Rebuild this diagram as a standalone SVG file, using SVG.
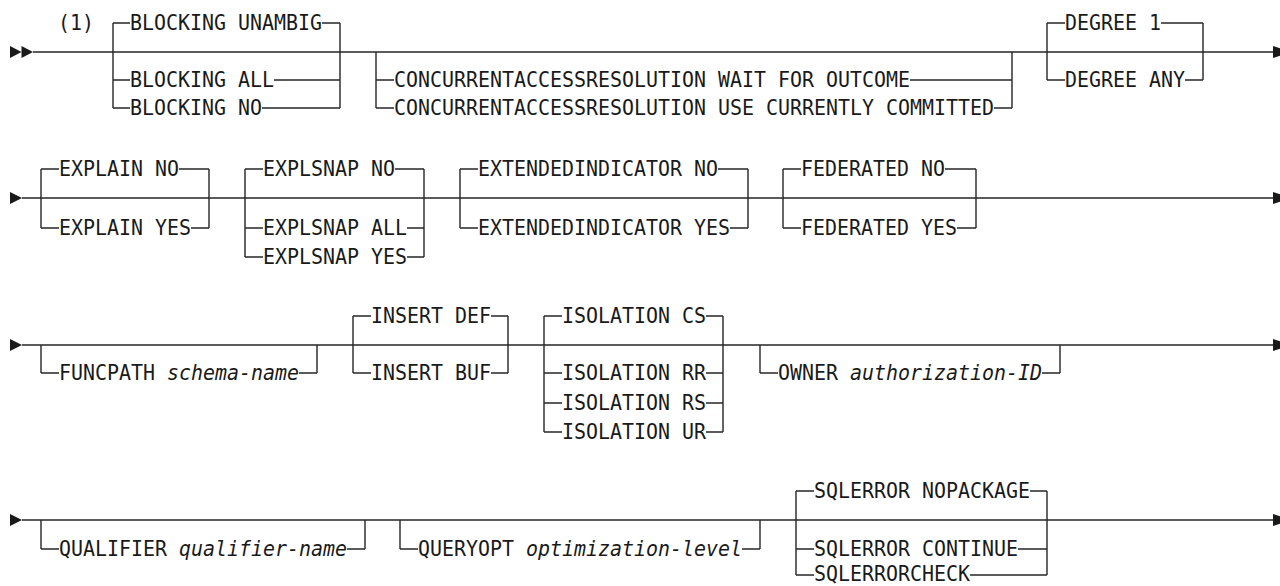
<svg xmlns="http://www.w3.org/2000/svg" width="1280" height="586" viewBox="0 0 1280 586">
<style>
.t{font-family:"DejaVu Sans Mono","Liberation Mono",monospace;font-size:22px;fill:#1a1a1a}
.i{font-style:italic}
.ln{stroke:#262626;stroke-width:1.4;fill:none}
.ar{fill:#1a1a1a}
</style>
<rect width="1280" height="586" fill="#ffffff"/>
<g id="connectors">
<path class="ln" d="M33,52 H1274 M22,198 H1274 M22,345 H1274 M22,520 H1274"/>
<path class="ln" d="M113,23 V108 M340,23 V108 M113,23 H130 M322,23 H340 M113,80 H130 M274,80 H340 M113,108 H130 M262,108 H340"/>
<path class="ln" d="M376,52 V108 M1012,52 V108 M376,80 H394 M910,80 H1012 M376,108 H394 M994,108 H1012"/>
<path class="ln" d="M1047,23 V80 M1203,23 V80 M1047,23 H1065 M1161,23 H1203 M1047,80 H1065 M1185,80 H1203"/>
<path class="ln" d="M41,169 V228 M209,169 V228 M41,169 H59 M179,169 H209 M41,228 H59 M191,228 H209"/>
<path class="ln" d="M245,169 V257 M424,169 V257 M245,169 H263 M395,169 H424 M245,228 H263 M407,228 H424 M245,257 H263 M407,257 H424"/>
<path class="ln" d="M460,169 V228 M748,169 V228 M460,169 H478 M718,169 H748 M460,228 H478 M730,228 H748"/>
<path class="ln" d="M783,169 V228 M976,169 V228 M783,169 H801 M945,169 H976 M783,228 H801 M957,228 H976"/>
<path class="ln" d="M41,345 V373 M317,345 V373 M41,373 H59 M299,373 H317"/>
<path class="ln" d="M353,316 V373 M508,316 V373 M353,316 H371 M491,316 H508 M353,373 H371 M491,373 H508"/>
<path class="ln" d="M544,316 V432 M723,316 V432 M544,316 H562 M706,316 H723 M544,373 H562 M706,373 H723 M544,403 H562 M706,403 H723 M544,432 H562 M706,432 H723"/>
<path class="ln" d="M760,345 V373 M1060,345 V373 M760,373 H778 M1042,373 H1060"/>
<path class="ln" d="M41,520 V549 M365,520 V549 M41,549 H59 M347,549 H365"/>
<path class="ln" d="M400,520 V549 M760,520 V549 M400,549 H418 M742,549 H760"/>
<path class="ln" d="M796,491 V575 M1047,491 V575 M796,491 H814 M1030,491 H1047 M796,549 H814 M1018,549 H1047 M796,575 H814 M970,575 H1047"/>
<polygon class="ar" points="10,46 21.5,52 10,58"/>
<polygon class="ar" points="21.5,46 33,52 21.5,58"/>
<polygon class="ar" points="10,192 22,198 10,204"/>
<polygon class="ar" points="10,339 22,345 10,351"/>
<polygon class="ar" points="10,514 22,520 10,526"/>
<polygon class="ar" points="1273,46 1291,52 1273,58"/>
<polygon class="ar" points="1273,192 1291,198 1273,204"/>
<polygon class="ar" points="1273,339 1291,345 1273,351"/>
<polygon class="ar" points="1273,514 1291,520 1273,526"/>
</g>
<g id="note1"><text class="t" x="58" y="30" textLength="36" lengthAdjust="spacingAndGlyphs">(1)</text></g>
<g id="blocking">
<text class="t" x="130" y="30" textLength="192" lengthAdjust="spacingAndGlyphs">BLOCKING UNAMBIG</text>
<text class="t" x="130" y="87" textLength="144" lengthAdjust="spacingAndGlyphs">BLOCKING ALL</text>
<text class="t" x="130" y="115" textLength="132" lengthAdjust="spacingAndGlyphs">BLOCKING NO</text>
</g>
<g id="concurrent">
<text class="t" x="394" y="87" textLength="516" lengthAdjust="spacingAndGlyphs">CONCURRENTACCESSRESOLUTION WAIT FOR OUTCOME</text>
<text class="t" x="394" y="115" textLength="600" lengthAdjust="spacingAndGlyphs">CONCURRENTACCESSRESOLUTION USE CURRENTLY COMMITTED</text>
</g>
<g id="degree">
<text class="t" x="1065" y="30" textLength="96" lengthAdjust="spacingAndGlyphs">DEGREE 1</text>
<text class="t" x="1065" y="87" textLength="120" lengthAdjust="spacingAndGlyphs">DEGREE ANY</text>
</g>
<g id="explain">
<text class="t" x="59" y="176" textLength="120" lengthAdjust="spacingAndGlyphs">EXPLAIN NO</text>
<text class="t" x="59" y="235" textLength="132" lengthAdjust="spacingAndGlyphs">EXPLAIN YES</text>
</g>
<g id="explsnap">
<text class="t" x="263" y="176" textLength="132" lengthAdjust="spacingAndGlyphs">EXPLSNAP NO</text>
<text class="t" x="263" y="235" textLength="144" lengthAdjust="spacingAndGlyphs">EXPLSNAP ALL</text>
<text class="t" x="263" y="264" textLength="144" lengthAdjust="spacingAndGlyphs">EXPLSNAP YES</text>
</g>
<g id="extendedindicator">
<text class="t" x="478" y="176" textLength="240" lengthAdjust="spacingAndGlyphs">EXTENDEDINDICATOR NO</text>
<text class="t" x="478" y="235" textLength="252" lengthAdjust="spacingAndGlyphs">EXTENDEDINDICATOR YES</text>
</g>
<g id="federated">
<text class="t" x="801" y="176" textLength="144" lengthAdjust="spacingAndGlyphs">FEDERATED NO</text>
<text class="t" x="801" y="235" textLength="156" lengthAdjust="spacingAndGlyphs">FEDERATED YES</text>
</g>
<g id="funcpath">
<text class="t" x="59" y="380" textLength="96" lengthAdjust="spacingAndGlyphs">FUNCPATH</text>
<text class="t i" x="167" y="380" textLength="132" lengthAdjust="spacingAndGlyphs">schema-name</text>
</g>
<g id="insert">
<text class="t" x="371" y="323" textLength="120" lengthAdjust="spacingAndGlyphs">INSERT DEF</text>
<text class="t" x="371" y="380" textLength="120" lengthAdjust="spacingAndGlyphs">INSERT BUF</text>
</g>
<g id="isolation">
<text class="t" x="562" y="323" textLength="144" lengthAdjust="spacingAndGlyphs">ISOLATION CS</text>
<text class="t" x="562" y="380" textLength="144" lengthAdjust="spacingAndGlyphs">ISOLATION RR</text>
<text class="t" x="562" y="410" textLength="144" lengthAdjust="spacingAndGlyphs">ISOLATION RS</text>
<text class="t" x="562" y="439" textLength="144" lengthAdjust="spacingAndGlyphs">ISOLATION UR</text>
</g>
<g id="owner">
<text class="t" x="778" y="380" textLength="60" lengthAdjust="spacingAndGlyphs">OWNER</text>
<text class="t i" x="850" y="380" textLength="192" lengthAdjust="spacingAndGlyphs">authorization-ID</text>
</g>
<g id="qualifier">
<text class="t" x="59" y="556" textLength="108" lengthAdjust="spacingAndGlyphs">QUALIFIER</text>
<text class="t i" x="179" y="556" textLength="168" lengthAdjust="spacingAndGlyphs">qualifier-name</text>
</g>
<g id="queryopt">
<text class="t" x="418" y="556" textLength="96" lengthAdjust="spacingAndGlyphs">QUERYOPT</text>
<text class="t i" x="526" y="556" textLength="216" lengthAdjust="spacingAndGlyphs">optimization-level</text>
</g>
<g id="sqlerror">
<text class="t" x="814" y="498" textLength="216" lengthAdjust="spacingAndGlyphs">SQLERROR NOPACKAGE</text>
<text class="t" x="814" y="556" textLength="204" lengthAdjust="spacingAndGlyphs">SQLERROR CONTINUE</text>
<text class="t" x="814" y="581" textLength="156" lengthAdjust="spacingAndGlyphs">SQLERRORCHECK</text>
</g>
</svg>
